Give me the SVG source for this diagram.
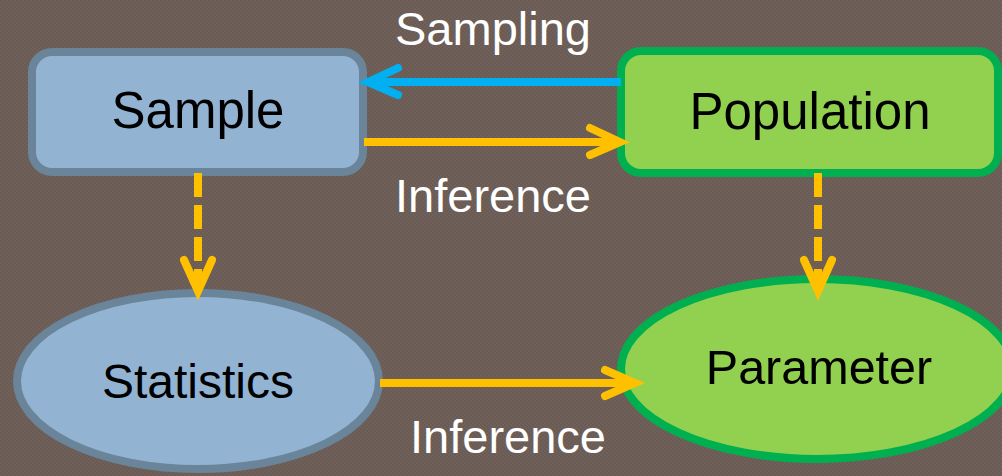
<svg xmlns="http://www.w3.org/2000/svg" width="1002" height="476" viewBox="0 0 1002 476">
<style>
.lbl{font-family:"Liberation Sans",Arial,sans-serif;font-size:47px;fill:#ffffff;text-anchor:middle}
.ntxt{font-family:"Liberation Sans",Arial,sans-serif;font-size:51px;fill:#000000;text-anchor:middle}
.blue{fill:#93b3d3;stroke:#6a8499;stroke-width:8}
.green{fill:#92d050;stroke:#00b050;stroke-width:8}
.ln{fill:none;stroke-width:8}
.head{fill:none;stroke-width:8;stroke-linecap:round;stroke-linejoin:miter}
.y{stroke:#ffc000}
.c{stroke:#00b0f0}
.dash{stroke-dasharray:24 8}
</style>
<defs>
<pattern id="bg" width="4" height="4" patternUnits="userSpaceOnUse">
<rect width="4" height="4" fill="#6f615a"/>
<rect width="2" height="2" fill="#6a5c55"/>
<rect x="2" y="2" width="2" height="2" fill="#6a5c55"/>
</pattern>
</defs>
<rect width="1002" height="476" fill="url(#bg)"/>
<g id="sample">
<rect class="blue" x="32" y="52" width="331" height="120" rx="20"/>
<text class="ntxt" x="198" y="128">Sample</text>
</g>
<g id="population">
<rect class="green" x="621" y="51" width="377" height="122" rx="20"/>
<text class="ntxt" x="810" y="129">Population</text>
</g>
<g id="statistics">
<ellipse class="blue" cx="198" cy="381" rx="181" ry="88"/>
<text class="ntxt" x="198" y="398" style="font-size:48px">Statistics</text>
</g>
<g id="parameter">
<ellipse class="green" cx="817" cy="369" rx="196" ry="90"/>
<text class="ntxt" x="819" y="384" style="font-size:48.5px">Parameter</text>
</g>
<g id="connectors">
<line class="ln c" x1="621" y1="82" x2="372" y2="82"/>
<polyline class="head c" points="398,68 368,82 398,95"/>
<line class="ln y" x1="364" y1="142" x2="614" y2="142"/>
<polyline class="head y" points="590,128 620,142 590,155"/>
<line class="ln y" x1="380" y1="383" x2="630" y2="383"/>
<polyline class="head y" points="605,370 635,383 605,396"/>
<line class="ln y dash" x1="198" y1="173" x2="198" y2="286"/>
<polyline class="head y" points="184,260 198,291 212,260"/>
<line class="ln y dash" x1="818" y1="173" x2="818" y2="286"/>
<polyline class="head y" points="804,260 818,291 832,260"/>
</g>
<g id="labels">
<text class="lbl" x="493" y="45">Sampling</text>
<text class="lbl" x="493" y="212">Inference</text>
<text class="lbl" x="508" y="453">Inference</text>
</g>
</svg>
